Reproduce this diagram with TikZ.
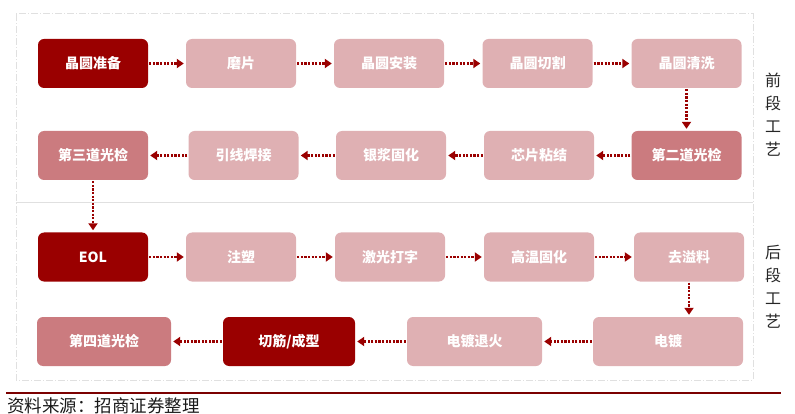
\documentclass[tikz,border=0pt]{standalone}
\usepackage{fontspec}
\setmainfont{Noto Sans CJK SC}
\usetikzlibrary{arrows.meta}
\definecolor{dred}{HTML}{9A0000}
\definecolor{pinkl}{HTML}{DFB0B3}
\definecolor{pinkm}{HTML}{CB7B7F}
\definecolor{frame}{HTML}{E0E0E0}
\tikzset{
  stepbox/.style={rectangle,rounded corners=6pt,minimum height=49pt,minimum width=110pt,
    text=white,font=\fontsize{14}{16}\selectfont\bfseries,inner sep=0pt},
  darkbox/.style={stepbox,fill=dred},
  lightbox/.style={stepbox,fill=pinkl},
  midbox/.style={stepbox,fill=pinkm},
  flow/.style={draw=dred,line width=2.8pt,dash pattern=on 2.2pt off 1.4pt,
    -{Triangle[length=7pt,width=9pt]},shorten <=1pt,shorten >=2pt},
  side/.style={font=\fontsize{16}{23}\selectfont,align=center,text=black!85}
}
\begin{document}
\begin{tikzpicture}[x=1pt,y=-1pt]
\useasboundingbox (0,0) rectangle (795,414);
% frame
\draw[frame,line width=1pt,dash pattern=on 7pt off 2pt on 1pt off 2pt] (16,14) rectangle (753,380);
\draw[frame,line width=1pt] (16,203) -- (753,203);
% row 1
\node[darkbox]  (a1) at (93,63.5) {晶圆准备};
\node[lightbox] (a2) at (241,63.5) {磨片};
\node[lightbox] (a3) at (389,63.5) {晶圆安装};
\node[lightbox] (a4) at (537.5,63.5) {晶圆切割};
\node[lightbox] (a5) at (686.5,63.5) {晶圆清洗};
% row 2
\node[midbox]   (b5) at (686.5,155.5) {第二道光检};
\node[lightbox] (b4) at (539,155.5) {芯片粘结};
\node[lightbox] (b3) at (391,155.5) {银浆固化};
\node[lightbox] (b2) at (243.5,155.5) {引线焊接};
\node[midbox]   (b1) at (93,155.5) {第三道光检};
% row 3
\node[darkbox]  (c1) at (93,257) {EOL};
\node[lightbox] (c2) at (241,257) {注塑};
\node[lightbox] (c3) at (390,257) {激光打字};
\node[lightbox] (c4) at (539,257) {高温固化};
\node[lightbox] (c5) at (689,257) {去溢料};
% row 4
\node[lightbox,minimum width=150pt] (d4) at (668,341.5) {电镀};
\node[lightbox,minimum width=135pt] (d3) at (474.5,341.5) {电镀退火};
\node[darkbox,minimum width=132pt]  (d2) at (289,341.5) {切筋/成型};
\node[midbox,minimum width=134pt]   (d1) at (104,341.5) {第四道光检};
% connectors
\draw[flow] (a1) -- (a2);
\draw[flow] (a2) -- (a3);
\draw[flow] (a3) -- (a4);
\draw[flow] (a4) -- (a5);
\draw[flow] (a5) -- (b5);
\draw[flow] (b5) -- (b4);
\draw[flow] (b4) -- (b3);
\draw[flow] (b3) -- (b2);
\draw[flow] (b2) -- (b1);
\draw[flow] (b1) -- (c1);
\draw[flow] (c1) -- (c2);
\draw[flow] (c2) -- (c3);
\draw[flow] (c3) -- (c4);
\draw[flow] (c4) -- (c5);
\draw[flow] (c5.south) -- (c5.south |- d4.north);
\draw[flow] (d4) -- (d3);
\draw[flow] (d3) -- (d2);
\draw[flow] (d2) -- (d1);
% side labels
\node[side] (s1) at (773,115) {前\\段\\工\\艺};
\node[side] (s2) at (773,287) {后\\段\\工\\艺};
% source
\draw[black!20!dred,line width=2pt] (6,392.5) -- (781,392.5);
\node[anchor=west,font=\fontsize{17.5}{19}\selectfont,inner sep=0pt,text=black!90] (src) at (7,405.5) {资料来源：招商证券整理};
\end{tikzpicture}
\end{document}
